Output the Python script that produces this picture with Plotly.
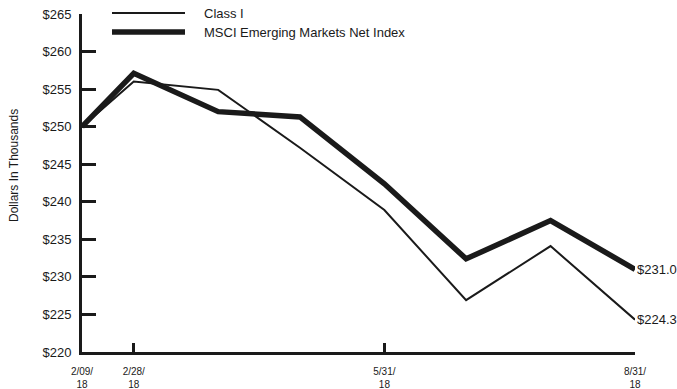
import plotly.graph_objects as go

dates = ["2018-02-09", "2018-02-28", "2018-03-31", "2018-04-30",
         "2018-05-31", "2018-06-30", "2018-07-31", "2018-08-31"]
class_i = [250.0, 256.0, 254.9, 247.2, 238.9, 226.9, 234.1, 224.3]
msci = [250.0, 257.1, 252.0, 251.3, 242.4, 232.4, 237.5, 231.0]

tick_dates = ["2018-02-09", "2018-02-28", "2018-05-31", "2018-08-31"]
tick_text = ["2/09/<br>18", "2/28/<br>18", "5/31/<br>18", "8/31/<br>18"]
y_ticks = [220, 225, 230, 235, 240, 245, 250, 255, 260, 265]
y_text = ["$%d" % v for v in y_ticks]

series_names = ["Class I", "MSCI Emerging Markets Net Index"]
end_labels = ["$%.1f" % class_i[-1], "$%.1f" % msci[-1]]

INK = "#1a1a1a"
FONT = "Liberation Sans Narrow, Arial Narrow, sans-serif"

fig = go.Figure()
fig.add_trace(go.Scatter(x=dates, y=class_i, mode="lines", name=series_names[0],
                         line=dict(color=INK, width=2), cliponaxis=False))
fig.add_trace(go.Scatter(x=dates, y=msci, mode="lines", name=series_names[1],
                         line=dict(color=INK, width=5.5), cliponaxis=False))

# end labels
for yv, txt in zip([class_i[-1], msci[-1]], end_labels):
    fig.add_annotation(x=dates[-1], y=yv, text=txt, showarrow=False,
                       xanchor="left", yanchor="middle", xshift=0,
                       font=dict(family=FONT, size=13, color=INK))

# custom legend
legend_rows = [(13, 2), (32, 5.5)]
for (py, w), name in zip(legend_rows, series_names):
    yp = 1 - (py - 14) / 338
    fig.add_shape(type="line", xref="paper", yref="paper",
                  x0=(112 - 82) / 553, x1=(185 - 82) / 553, y0=yp, y1=yp,
                  line=dict(color=INK, width=w))
    fig.add_annotation(xref="paper", yref="paper", x=(202 - 82) / 553, y=yp,
                       text=name, showarrow=False, xanchor="left", yanchor="middle",
                       font=dict(family=FONT, size=13, color=INK))

# y-axis title
fig.add_annotation(xref="paper", yref="paper", x=(14 - 82) / 553, y=(352 - 166) / 338,
                   text="Dollars In Thousands", textangle=-90, showarrow=False,
                   xanchor="center", yanchor="middle",
                   font=dict(family=FONT, size=12, color=INK))

fig.update_layout(
    width=677, height=389,
    margin=dict(l=82, r=42, t=14, b=37, autoexpand=False),
    paper_bgcolor="white", plot_bgcolor="white",
    showlegend=False,
    font=dict(family=FONT, color=INK),
    xaxis=dict(type="date", range=["2018-02-09", "2018-08-31"],
               tickvals=tick_dates, ticktext=tick_text, automargin=False,
               ticks="inside", ticklen=9, tickwidth=3, tickcolor=INK,
               showline=True, linewidth=3, linecolor=INK,
               showgrid=False, zeroline=False, ticklabelstandoff=8,
               tickfont=dict(family=FONT, size=10, color=INK)),
    yaxis=dict(range=[220, 265], tickvals=y_ticks, ticktext=y_text, automargin=False,
               ticks="inside", ticklen=14, tickwidth=3, tickcolor=INK,
               showline=True, linewidth=3, linecolor=INK,
               showgrid=False, zeroline=False, ticklabelstandoff=5,
               tickfont=dict(family=FONT, size=13, color=INK)),
)

fig.write_html("out.html")
